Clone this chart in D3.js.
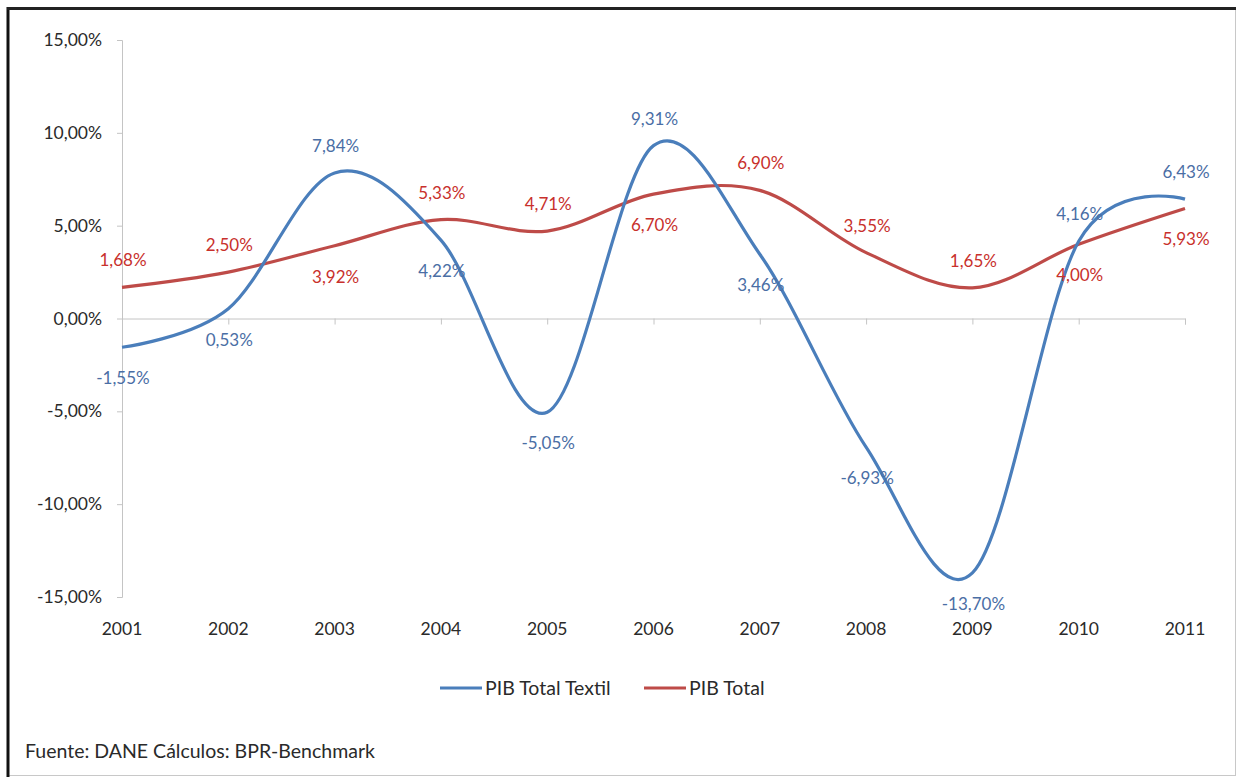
<!DOCTYPE html>
<html><head><meta charset="utf-8">
<script src="https://cdn.jsdelivr.net/npm/d3@7"></script>
<style>
html,body{margin:0;padding:0;background:#fff;}
svg{display:block;font-family:Lato,"Open Sans",sans-serif;}
</style></head>
<body>
<svg id="chart" width="1238" height="780"></svg>
<script>
const years = ["2001","2002","2003","2004","2005","2006","2007","2008","2009","2010","2011"];
const textil = [-1.55, 0.53, 7.84, 4.22, -5.05, 9.31, 3.46, -6.93, -13.70, 4.16, 6.43];
const total  = [1.68, 2.50, 3.92, 5.33, 4.71, 6.70, 6.90, 3.55, 1.65, 4.00, 5.93];
const yTicks = [-15, -10, -5, 0, 5, 10, 15];
const seriesNames = ["PIB Total Textil", "PIB Total"];
// label placement: 1 = above the point, -1 = below
const textilPlace = [-1, -1, 1, -1, -1, 1, -1, -1, -1, 1, 1];
const totalPlace  = [1, 1, -1, 1, 1, -1, 1, 1, 1, -1, -1];

const svg = d3.select("#chart");
const fmt = v => v.toFixed(2).replace(".", ",") + "%";

// frame
svg.append("rect").attr("x",8.5).attr("y",8.5).attr("width",1227).attr("height",767)
  .attr("fill","#fff").attr("stroke","#c8c8c8").attr("stroke-width",1);
svg.append("line").attr("x1",8).attr("x2",8).attr("y1",7).attr("y2",777).attr("stroke","#111").attr("stroke-width",3);
svg.append("line").attr("x1",7).attr("x2",1236).attr("y1",8.5).attr("y2",8.5).attr("stroke","#222").attr("stroke-width",3);

const x = d3.scalePoint().domain(years).range([122, 1185]);
const y = d3.scaleLinear().domain([-15, 15]).range([597, 40]);

const blue = "#4a7ebb", red = "#be4b48";
const blueText = "#4a6ea5", redText = "#c8302c";

// y axis
const yAxis = svg.append("g").attr("transform","translate(122,0)")
  .call(d3.axisLeft(y).tickValues(yTicks).tickSize(5).tickPadding(15).tickFormat(d => fmt(d)));
yAxis.select(".domain").attr("stroke","#c4c4c4");
yAxis.selectAll(".tick line").attr("stroke","#c4c4c4");
yAxis.selectAll(".tick text").attr("fill","#2a2a2a").style("font-size","17.5px").style("font-family","Lato, sans-serif");

// x axis at zero
const xAxis = svg.append("g").attr("transform",`translate(0,${y(0)})`)
  .call(d3.axisBottom(x).tickSize(6).tickFormat(""));
xAxis.select(".domain").attr("stroke","#c4c4c4");
xAxis.selectAll(".tick line").attr("stroke","#c4c4c4");

// x labels at bottom
svg.append("g").selectAll("text").data(years).join("text")
  .attr("x", d => x(d)).attr("y", 635).attr("text-anchor","middle")
  .attr("fill","#2a2a2a").style("font-size","17.5px").text(d => d);

const line = d3.line().x((d,i) => x(years[i])).y(d => y(d)).curve(d3.curveCatmullRom.alpha(0));

svg.append("path").datum(total).attr("d", line).attr("fill","none")
  .attr("stroke", red).attr("stroke-width",3.2);
svg.append("path").datum(textil).attr("d", line).attr("fill","none")
  .attr("stroke", blue).attr("stroke-width",3.2);

function labels(vals, place, color){
  svg.append("g").selectAll("text").data(vals).join("text")
    .attr("x", (d,i) => x(years[i]) + 1)
    .attr("y", (d,i) => y(d) + (place[i] > 0 ? -21 : 37))
    .attr("text-anchor","middle").attr("fill", color)
    .style("font-size","17px").text(d => fmt(d));
}
labels(textil, textilPlace, blueText);
labels(total, totalPlace, redText);

// legend
const leg = svg.append("g").attr("transform","translate(0,688)");
const legItems = [{name: seriesNames[0], color: blue, x: 440}, {name: seriesNames[1], color: red, x: 644}];
legItems.forEach(it => {
  leg.append("line").attr("x1", it.x).attr("x2", it.x + 42).attr("y1",0).attr("y2",0)
    .attr("stroke", it.color).attr("stroke-width",3.2);
  leg.append("text").attr("x", it.x + 45).attr("y", 6.5).attr("fill","#2a2a2a")
    .style("font-size","19.5px").text(it.name);
});

// source
svg.append("text").attr("x",25).attr("y",758).attr("fill","#2a2a2a")
  .style("font-size","19.5px").text("Fuente: DANE Cálculos: BPR-Benchmark");
</script>
</body></html>
